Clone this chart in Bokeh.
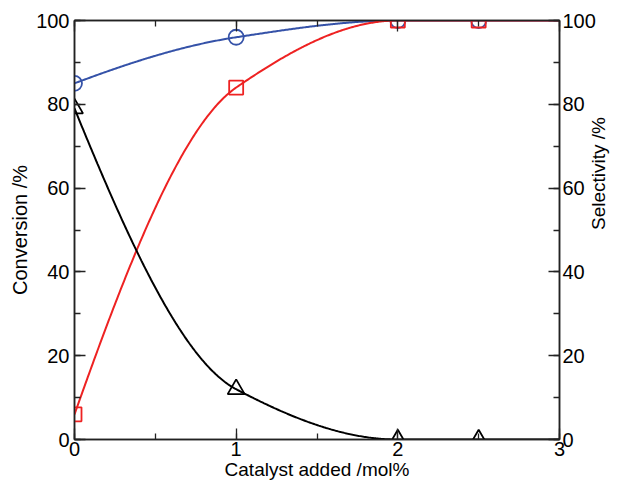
import numpy as np
from bokeh.plotting import figure
from bokeh.models import LinearAxis, SingleIntervalTicker, Range1d
from bokeh.embed import file_html
from bokeh.resources import INLINE

# ---- data ----
catalyst = [0, 1, 2, 2.5]
series_blue = [85, 96, 100, 100]      # circles
series_red = [6, 84, 100, 100]        # squares
series_black = [79, 12, 0, 0]         # triangles
x_max = 3
y_max = 100
x_title = "Catalyst added /mol%"
y_title_left = "Conversion /%"
y_title_right = "Selectivity /%"

FONT = "Liberation Sans"
BLUE = "#3552a8"
RED = "#ee2222"
BLACK = "#000000"
AXC = "#222222"


def pchip(xk, yk, xs):
    xk = np.asarray(xk, float)
    yk = np.asarray(yk, float)
    h = np.diff(xk)
    d = np.diff(yk) / h
    n = len(xk)
    m = np.zeros(n)
    for k in range(1, n - 1):
        if d[k - 1] * d[k] <= 0:
            m[k] = 0.0
        else:
            w1 = 2 * h[k] + h[k - 1]
            w2 = h[k] + 2 * h[k - 1]
            m[k] = (w1 + w2) / (w1 / d[k - 1] + w2 / d[k])

    def end(h0, h1, d0, d1):
        v = ((2 * h0 + h1) * d0 - h0 * d1) / (h0 + h1)
        if np.sign(v) != np.sign(d0):
            v = 0.0
        elif np.sign(d0) != np.sign(d1) and abs(v) > abs(3 * d0):
            v = 3 * d0
        return v

    m[0] = end(h[0], h[1], d[0], d[1])
    m[-1] = end(h[-1], h[-2], d[-1], d[-2])
    out = np.empty_like(xs)
    for i, x in enumerate(xs):
        k = min(max(np.searchsorted(xk, x) - 1, 0), n - 2)
        t = (x - xk[k]) / h[k]
        h00 = 2 * t**3 - 3 * t**2 + 1
        h10 = t**3 - 2 * t**2 + t
        h01 = -2 * t**3 + 3 * t**2
        h11 = t**3 - t**2
        out[i] = h00 * yk[k] + h10 * h[k] * m[k] + h01 * yk[k + 1] + h11 * h[k] * m[k + 1]
    return out


xs = np.linspace(0, x_max, 400)

p = figure(width=622, height=482, output_backend="svg", toolbar_location=None,
           x_range=Range1d(0, x_max), y_range=Range1d(0, y_max),
           min_border_left=74, min_border_right=56, min_border_top=20, min_border_bottom=20,
           x_axis_label=x_title, y_axis_label=y_title_left)
p.xgrid.visible = False
p.ygrid.visible = False
p.outline_line_color = AXC
p.outline_line_width = 1.5
p.background_fill_color = "white"
p.border_fill_color = "white"

right_axis = LinearAxis(axis_label=y_title_right)
top_axis = LinearAxis()
p.add_layout(right_axis, "right")
p.add_layout(top_axis, "above")


def style_axis(ax, interval):
    ax.ticker = SingleIntervalTicker(interval=interval, num_minor_ticks=2)
    ax.major_tick_in = 11
    ax.major_tick_out = 0
    ax.minor_tick_in = 6
    ax.minor_tick_out = 0
    ax.axis_line_color = AXC
    ax.axis_line_width = 1.5
    ax.major_tick_line_color = AXC
    ax.major_tick_line_width = 1.3
    ax.minor_tick_line_color = AXC
    ax.minor_tick_line_width = 1.3
    ax.major_label_text_font = FONT
    ax.major_label_text_color = "black"
    ax.major_label_text_font_size = "20px"
    ax.axis_label_text_font = FONT
    ax.axis_label_text_font_style = "normal"
    ax.axis_label_text_color = "black"
    ax.axis_label_text_font_size = "20px"
    ax.major_label_standoff = 5
    ax.axis_label_standoff = 2


for ax in p.xaxis:
    style_axis(ax, 1)
for ax in p.yaxis:
    style_axis(ax, 20)

p.below[0].major_label_standoff = 2
p.below[0].axis_label_standoff = 0
p.below[0].axis_label_text_font_size = "19px"
right_axis.major_label_standoff = 3
right_axis.axis_label_standoff = 0
right_axis.axis_label_text_font_size = "19px"
try:
    right_axis.axis_label_orientation = np.pi / 2
except Exception:
    pass

top_axis.major_label_text_alpha = 0
top_axis.major_label_text_font_size = "2px"
top_axis.major_label_standoff = 0

for ys, color, marker, size in [
    (series_blue, BLUE, "circle", 15),
    (series_red, RED, "square", 14),
    (series_black, BLACK, "triangle", 17),
]:
    xk = list(catalyst) + [x_max]
    yk = list(ys) + [ys[-1]]
    p.line(xs, pchip(xk, yk, xs), line_color=color, line_width=2)
    p.scatter(catalyst, ys, marker=marker, size=size, fill_color=None,
              line_color=color, line_width=1.8)

open("out.html", "w").write(file_html(p, INLINE))
